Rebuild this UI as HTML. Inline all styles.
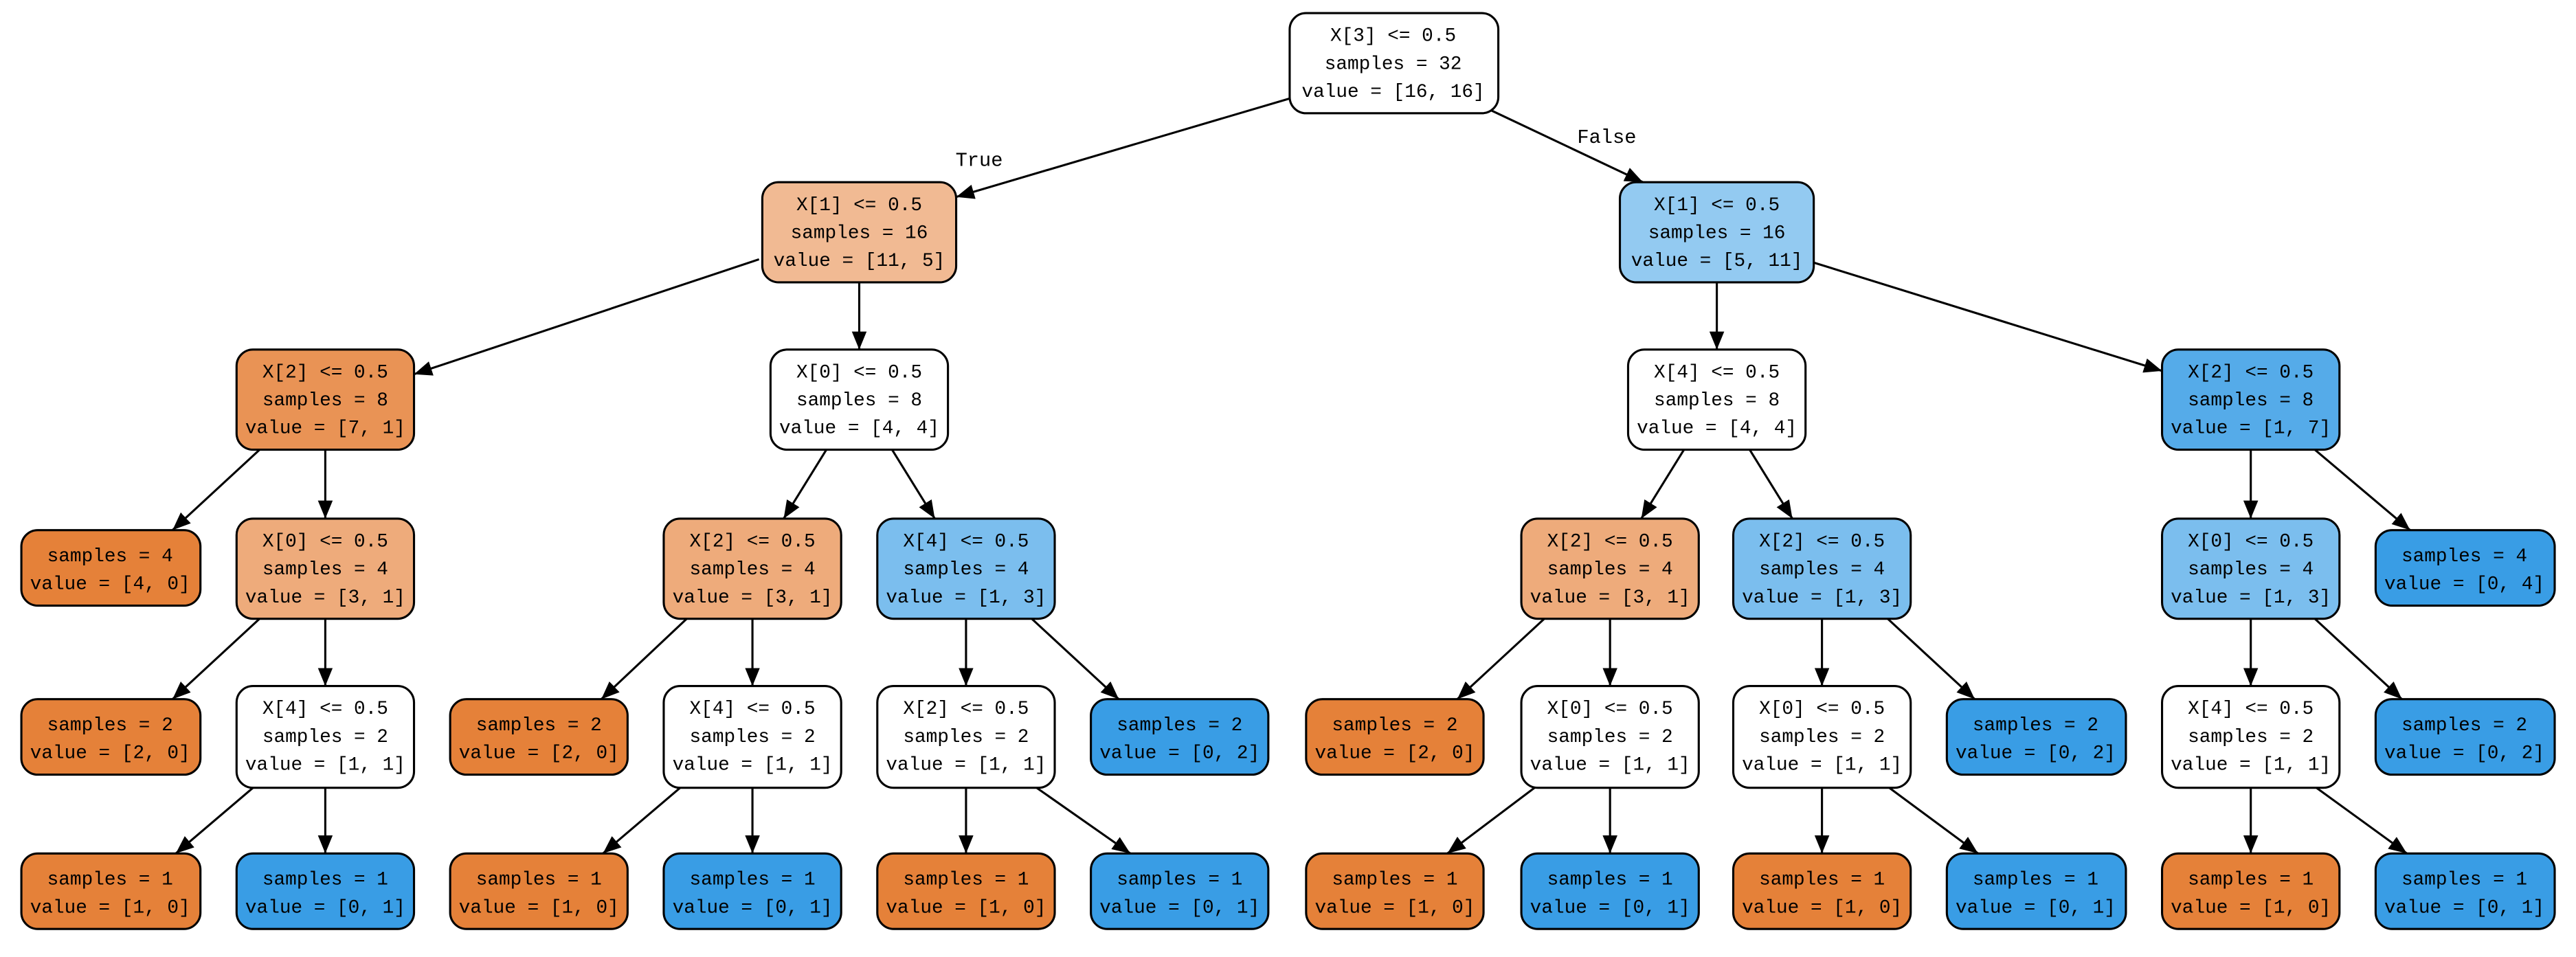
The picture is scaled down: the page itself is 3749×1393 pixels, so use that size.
<!DOCTYPE html>
<html><head><meta charset="utf-8"><style>html,body{margin:0;padding:0;background:#fff}svg{display:block}</style></head>
<body>
<svg xmlns="http://www.w3.org/2000/svg" width="3749" height="1393" viewBox="0 0 3749 1393">
<defs><marker id="ah" markerUnits="userSpaceOnUse" markerWidth="12" markerHeight="10" refX="11" refY="4.5" orient="auto"><path d="M0,0 L11,4.5 L0,9 Z" fill="#000"/></marker></defs>
<g transform="scale(2.391,2.389)" font-family="'Liberation Mono', monospace" font-size="11.6" text-anchor="middle" fill="#000">
<g stroke="#000" stroke-width="1.3" fill="none" marker-end="url(#ah)">
<line x1="785" y1="60" x2="582" y2="120"/>
<line x1="905" y1="66" x2="1000" y2="111"/>
<line x1="462" y1="158" x2="252" y2="228"/>
<line x1="523" y1="172" x2="523" y2="213"/>
<line x1="1045" y1="172" x2="1045" y2="213"/>
<line x1="1104" y1="160" x2="1316" y2="226"/>
<line x1="158" y1="274" x2="105" y2="323"/>
<line x1="198" y1="274" x2="198" y2="316"/>
<line x1="503" y1="274" x2="477" y2="316"/>
<line x1="543" y1="274" x2="569" y2="316"/>
<line x1="1025" y1="274" x2="999" y2="316"/>
<line x1="1065" y1="274" x2="1091" y2="316"/>
<line x1="1370" y1="274" x2="1370" y2="316"/>
<line x1="1409" y1="274" x2="1467" y2="323"/>
<line x1="158" y1="377" x2="105" y2="426"/>
<line x1="198" y1="377" x2="198" y2="418"/>
<line x1="418" y1="377" x2="366" y2="426"/>
<line x1="458" y1="377" x2="458" y2="418"/>
<line x1="588" y1="377" x2="588" y2="418"/>
<line x1="628" y1="377" x2="681" y2="426"/>
<line x1="940" y1="377" x2="887" y2="426"/>
<line x1="980" y1="377" x2="980" y2="418"/>
<line x1="1109" y1="377" x2="1109" y2="418"/>
<line x1="1149" y1="377" x2="1202" y2="426"/>
<line x1="1370" y1="377" x2="1370" y2="418"/>
<line x1="1409" y1="377" x2="1462" y2="426"/>
<line x1="154" y1="480" x2="107" y2="520"/>
<line x1="198" y1="480" x2="198" y2="520"/>
<line x1="414" y1="480" x2="367" y2="520"/>
<line x1="458" y1="480" x2="458" y2="520"/>
<line x1="588" y1="480" x2="588" y2="520"/>
<line x1="631" y1="480" x2="688" y2="520"/>
<line x1="934" y1="480" x2="881" y2="520"/>
<line x1="980" y1="480" x2="980" y2="520"/>
<line x1="1109" y1="480" x2="1109" y2="520"/>
<line x1="1150" y1="480" x2="1204" y2="520"/>
<line x1="1370" y1="480" x2="1370" y2="520"/>
<line x1="1410" y1="480" x2="1465" y2="520"/>
</g>
<text x="596" y="101" font-size="12">True</text>
<text x="978" y="87" font-size="12">False</text>
<g stroke="#000" stroke-width="1.3">
<!-- level 0 -->
<rect x="785" y="8" width="127" height="61" rx="10" fill="#ffffff"/>
<!-- level 1 -->
<rect x="464" y="111" width="118" height="61" rx="10" fill="#f1ba93"/>
<rect x="986" y="111" width="118" height="61" rx="10" fill="#93caf1"/>
<!-- level 2 -->
<rect x="144" y="213" width="108" height="61" rx="10" fill="#e99355"/>
<rect x="469" y="213" width="108" height="61" rx="10" fill="#ffffff"/>
<rect x="991" y="213" width="108" height="61" rx="10" fill="#ffffff"/>
<rect x="1316" y="213" width="108" height="61" rx="10" fill="#55abe9"/>
<!-- level 3 -->
<rect x="13" y="323" width="109" height="46" rx="10" fill="#e58139"/>
<rect x="144" y="316" width="108" height="61" rx="10" fill="#eeab7b"/>
<rect x="404" y="316" width="108" height="61" rx="10" fill="#eeab7b"/>
<rect x="534" y="316" width="108" height="61" rx="10" fill="#7bbeee"/>
<rect x="926" y="316" width="108" height="61" rx="10" fill="#eeab7b"/>
<rect x="1055" y="316" width="108" height="61" rx="10" fill="#7bbeee"/>
<rect x="1316" y="316" width="108" height="61" rx="10" fill="#7bbeee"/>
<rect x="1446" y="323" width="109" height="46" rx="10" fill="#399de5"/>
<!-- level 4 -->
<rect x="13" y="426" width="109" height="46" rx="10" fill="#e58139"/>
<rect x="144" y="418" width="108" height="62" rx="10" fill="#ffffff"/>
<rect x="274" y="426" width="108" height="46" rx="10" fill="#e58139"/>
<rect x="404" y="418" width="108" height="62" rx="10" fill="#ffffff"/>
<rect x="534" y="418" width="108" height="62" rx="10" fill="#ffffff"/>
<rect x="664" y="426" width="108" height="46" rx="10" fill="#399de5"/>
<rect x="795" y="426" width="108" height="46" rx="10" fill="#e58139"/>
<rect x="926" y="418" width="108" height="62" rx="10" fill="#ffffff"/>
<rect x="1055" y="418" width="108" height="62" rx="10" fill="#ffffff"/>
<rect x="1185" y="426" width="109" height="46" rx="10" fill="#399de5"/>
<rect x="1316" y="418" width="108" height="62" rx="10" fill="#ffffff"/>
<rect x="1446" y="426" width="109" height="46" rx="10" fill="#399de5"/>
<!-- level 5 -->
<rect x="13" y="520" width="109" height="46" rx="10" fill="#e58139"/>
<rect x="144" y="520" width="108" height="46" rx="10" fill="#399de5"/>
<rect x="274" y="520" width="108" height="46" rx="10" fill="#e58139"/>
<rect x="404" y="520" width="108" height="46" rx="10" fill="#399de5"/>
<rect x="534" y="520" width="108" height="46" rx="10" fill="#e58139"/>
<rect x="664" y="520" width="108" height="46" rx="10" fill="#399de5"/>
<rect x="795" y="520" width="108" height="46" rx="10" fill="#e58139"/>
<rect x="926" y="520" width="108" height="46" rx="10" fill="#399de5"/>
<rect x="1055" y="520" width="108" height="46" rx="10" fill="#e58139"/>
<rect x="1185" y="520" width="109" height="46" rx="10" fill="#399de5"/>
<rect x="1316" y="520" width="108" height="46" rx="10" fill="#e58139"/>
<rect x="1446" y="520" width="109" height="46" rx="10" fill="#399de5"/>
</g>
<!-- texts -->
<text x="848" y="25">X[3] &lt;= 0.5</text><text x="848" y="42">samples = 32</text><text x="848" y="59">value = [16, 16]</text>
<text x="523" y="128">X[1] &lt;= 0.5</text><text x="523" y="145">samples = 16</text><text x="523" y="162">value = [11, 5]</text>
<text x="1045" y="128">X[1] &lt;= 0.5</text><text x="1045" y="145">samples = 16</text><text x="1045" y="162">value = [5, 11]</text>
<text x="198" y="230">X[2] &lt;= 0.5</text><text x="198" y="247">samples = 8</text><text x="198" y="264">value = [7, 1]</text>
<text x="523" y="230">X[0] &lt;= 0.5</text><text x="523" y="247">samples = 8</text><text x="523" y="264">value = [4, 4]</text>
<text x="1045" y="230">X[4] &lt;= 0.5</text><text x="1045" y="247">samples = 8</text><text x="1045" y="264">value = [4, 4]</text>
<text x="1370" y="230">X[2] &lt;= 0.5</text><text x="1370" y="247">samples = 8</text><text x="1370" y="264">value = [1, 7]</text>
<text x="67" y="342">samples = 4</text><text x="67" y="359">value = [4, 0]</text>
<text x="198" y="333">X[0] &lt;= 0.5</text><text x="198" y="350">samples = 4</text><text x="198" y="367">value = [3, 1]</text>
<text x="458" y="333">X[2] &lt;= 0.5</text><text x="458" y="350">samples = 4</text><text x="458" y="367">value = [3, 1]</text>
<text x="588" y="333">X[4] &lt;= 0.5</text><text x="588" y="350">samples = 4</text><text x="588" y="367">value = [1, 3]</text>
<text x="980" y="333">X[2] &lt;= 0.5</text><text x="980" y="350">samples = 4</text><text x="980" y="367">value = [3, 1]</text>
<text x="1109" y="333">X[2] &lt;= 0.5</text><text x="1109" y="350">samples = 4</text><text x="1109" y="367">value = [1, 3]</text>
<text x="1370" y="333">X[0] &lt;= 0.5</text><text x="1370" y="350">samples = 4</text><text x="1370" y="367">value = [1, 3]</text>
<text x="1500" y="342">samples = 4</text><text x="1500" y="359">value = [0, 4]</text>
<text x="67" y="445">samples = 2</text><text x="67" y="462">value = [2, 0]</text>
<text x="198" y="435">X[4] &lt;= 0.5</text><text x="198" y="452">samples = 2</text><text x="198" y="469">value = [1, 1]</text>
<text x="328" y="445">samples = 2</text><text x="328" y="462">value = [2, 0]</text>
<text x="458" y="435">X[4] &lt;= 0.5</text><text x="458" y="452">samples = 2</text><text x="458" y="469">value = [1, 1]</text>
<text x="588" y="435">X[2] &lt;= 0.5</text><text x="588" y="452">samples = 2</text><text x="588" y="469">value = [1, 1]</text>
<text x="718" y="445">samples = 2</text><text x="718" y="462">value = [0, 2]</text>
<text x="849" y="445">samples = 2</text><text x="849" y="462">value = [2, 0]</text>
<text x="980" y="435">X[0] &lt;= 0.5</text><text x="980" y="452">samples = 2</text><text x="980" y="469">value = [1, 1]</text>
<text x="1109" y="435">X[0] &lt;= 0.5</text><text x="1109" y="452">samples = 2</text><text x="1109" y="469">value = [1, 1]</text>
<text x="1239" y="445">samples = 2</text><text x="1239" y="462">value = [0, 2]</text>
<text x="1370" y="435">X[4] &lt;= 0.5</text><text x="1370" y="452">samples = 2</text><text x="1370" y="469">value = [1, 1]</text>
<text x="1500" y="445">samples = 2</text><text x="1500" y="462">value = [0, 2]</text>
<text x="67" y="539">samples = 1</text><text x="67" y="556">value = [1, 0]</text>
<text x="198" y="539">samples = 1</text><text x="198" y="556">value = [0, 1]</text>
<text x="328" y="539">samples = 1</text><text x="328" y="556">value = [1, 0]</text>
<text x="458" y="539">samples = 1</text><text x="458" y="556">value = [0, 1]</text>
<text x="588" y="539">samples = 1</text><text x="588" y="556">value = [1, 0]</text>
<text x="718" y="539">samples = 1</text><text x="718" y="556">value = [0, 1]</text>
<text x="849" y="539">samples = 1</text><text x="849" y="556">value = [1, 0]</text>
<text x="980" y="539">samples = 1</text><text x="980" y="556">value = [0, 1]</text>
<text x="1109" y="539">samples = 1</text><text x="1109" y="556">value = [1, 0]</text>
<text x="1239" y="539">samples = 1</text><text x="1239" y="556">value = [0, 1]</text>
<text x="1370" y="539">samples = 1</text><text x="1370" y="556">value = [1, 0]</text>
<text x="1500" y="539">samples = 1</text><text x="1500" y="556">value = [0, 1]</text>
</g>
</svg>
</body></html>
